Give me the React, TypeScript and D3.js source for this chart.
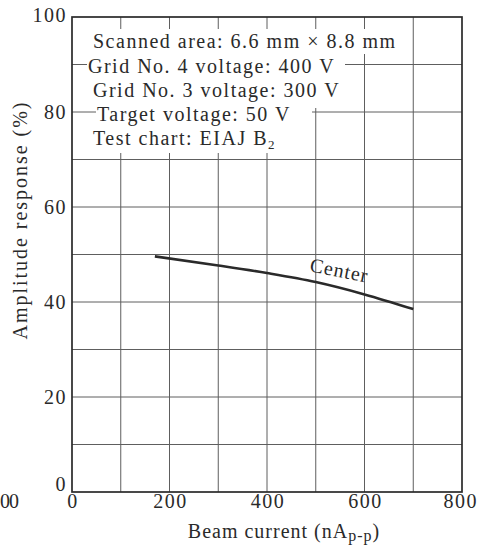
import React from 'react';
import * as d3 from 'd3';

// ---- data ----
const xTickValues = [0, 200, 400, 600, 800];
const yTickValues = [0, 20, 40, 60, 80, 100];
const xGridValues = [100, 200, 300, 400, 500, 600, 700];
const yGridValues = [10, 20, 30, 40, 50, 60, 70, 80, 90];
const beamCurrent = [170, 300, 400, 500, 600, 700];
const centerResponse = [49.6, 47.7, 46.1, 44.2, 41.6, 38.5];
const seriesLabel = 'Center';
const noteLines = [
  'Scanned area: 6.6 mm \u00d7 8.8 mm',
  'Grid No. 4 voltage: 400 V',
  'Grid No. 3 voltage: 300 V',
  'Target voltage: 50 V',
  'Test chart: EIAJ B',
];
const yAxisTitle = 'Amplitude response (%)';
const leftEdgeFragment = '00';

const W = 479;
const H = 548;
const left = 72, right = 462, top = 17, bottom = 492;
const ink = '#2a2a2a';
const gridInk = '#5e5e5e';
const font = '"Liberation Serif", "DejaVu Serif", serif';

export default function App() {
  const x = d3.scaleLinear().domain([0, 800]).range([left, right]);
  const y = d3.scaleLinear().domain([0, 100]).range([bottom, top]);
  const pts = beamCurrent.map((b, i) => [b, centerResponse[i]] as [number, number]);
  const line = d3
    .line<[number, number]>()
    .x((d) => x(d[0]))
    .y((d) => y(d[1]))
    .curve(d3.curveMonotoneX);

  // white patch behind the note block (stepped outline)
  const mask = [
    [73, 29], [400, 29], [400, 54], [345, 54], [345, 108], [312, 108], [312, 153],
    [96, 153], [96, 108], [87, 108], [87, 54], [73, 54],
  ];
  const noteX = [93, 88, 93, 97, 93];
  const noteY = [48, 73, 97, 121, 145];

  return (
    <svg
      width={W}
      height={H}
      style={{ position: 'absolute', left: 0, top: 0, background: '#fff' }}
      fontFamily={font}
    >
      <rect x={0} y={0} width={W} height={H} fill="#fff" />
      {/* grid */}
      {xGridValues.map((v) => (
        <line key={'xg' + v} x1={x(v)} x2={x(v)} y1={top} y2={bottom} stroke={gridInk} strokeWidth={1} />
      ))}
      {yGridValues.map((v) => (
        <line key={'yg' + v} x1={left} x2={right} y1={y(v)} y2={y(v)} stroke={gridInk} strokeWidth={1} />
      ))}
      <polygon points={mask.map((p) => p.join(',')).join(' ')} fill="#fff" />
      {/* frame */}
      <rect x={left} y={top} width={right - left} height={bottom - top} fill="none" stroke={ink} strokeWidth={1.7} />

      {/* notes */}
      {noteLines.map((t, i) => (
        <text key={'n' + i} x={noteX[i]} y={noteY[i]} fontSize={20} letterSpacing={1.5} fill={ink}>
          {t}
          {i === noteLines.length - 1 ? (
            <tspan fontSize={13} dy={4}>2</tspan>
          ) : null}
        </text>
      ))}

      {/* curve */}
      <path d={line(pts) || ''} fill="none" stroke={ink} strokeWidth={2.6} />
      <text
        transform={`translate(338,277) rotate(11)`}
        textAnchor="middle"
        fontSize={20}
        letterSpacing={1}
        fill={ink}
      >
        {seriesLabel}
      </text>

      {/* y ticks */}
      {yTickValues.map((v) => (
        <text
          key={'yt' + v}
          x={67}
          y={v === 0 ? y(v) - 8 : v === 100 ? y(v) - 2 : y(v)}
          dy="0.35em"
          textAnchor="end"
          fontSize={20}
          letterSpacing={1.5}
          fill={ink}
        >
          {v}
        </text>
      ))}
      {/* x ticks */}
      {xTickValues.map((v) => (
        <text
          key={'xt' + v}
          x={v === 800 ? 478 : x(v) + 1}
          y={508}
          textAnchor={v === 800 ? 'end' : 'middle'}
          fontSize={20}
          letterSpacing={1.5}
          fill={ink}
        >
          {v}
        </text>
      ))}
      {/* neighbouring label fragment at the left edge */}
      <text x={0} y={508} fontSize={20} letterSpacing={-1} fill={ink}>{leftEdgeFragment}</text>

      {/* axis titles */}
      <text
        transform={`translate(27,221) rotate(-90)`}
        textAnchor="middle"
        fontSize={20}
        textLength={237}
        lengthAdjust="spacing"
        fill={ink}
      >
        {yAxisTitle}
      </text>
      <text x={284} y={538} textAnchor="middle" fontSize={20} letterSpacing={1} fill={ink}>
        Beam current (nA<tspan fontSize={16} dy={3}>p-p</tspan>
        <tspan dy={-3}>)</tspan>
      </text>
    </svg>
  );
}
